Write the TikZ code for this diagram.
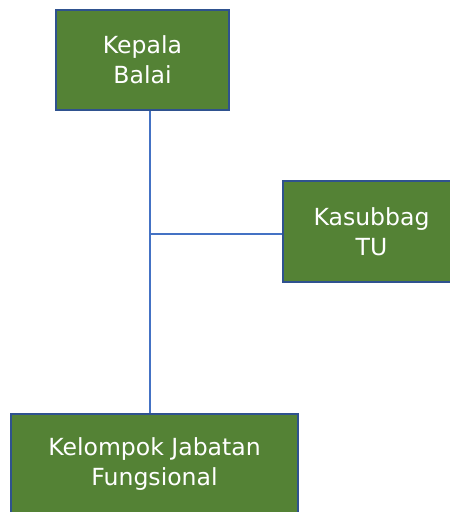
\documentclass[tikz,border=0pt]{standalone}
\usepackage{fontspec}
\setmainfont{DejaVu Sans}
\definecolor{boxgreen}{HTML}{548235}
\definecolor{boxblue}{HTML}{2F528F}
\definecolor{linkblue}{HTML}{4472C4}

\tikzset{
  unit/.style={draw=boxblue, line width=1.2pt, fill=boxgreen, text=white,
    align=center, inner sep=0pt, font=\fontsize{13.4}{17.2}\selectfont},
  link/.style={draw=linkblue, line width=0.6pt}
}

\begin{document}
\begin{tikzpicture}[x=0.02cm, y=0.02cm]
\useasboundingbox (0,0) rectangle (450,-512);
\clip (0,0) rectangle (450,-512);

\node[unit, minimum width=3.46cm, minimum height=2cm] (kepala) at (142.5,-60) {Kepala\\Balai};
\node[unit, minimum width=3.54cm, minimum height=2.02cm] (kasubbag) at (371.5,-231.5) {Kasubbag\\TU};
\node[unit, minimum width=5.74cm, minimum height=2cm] (jabfung) at (154.5,-464) {Kelompok Jabatan\\Fungsional};

\coordinate (cabang) at (150,-234);
\draw[link] (cabang |- kepala.south) -- (cabang |- jabfung.north);
\draw[link] (cabang) -- (kasubbag.west |- cabang);
\end{tikzpicture}
\end{document}
